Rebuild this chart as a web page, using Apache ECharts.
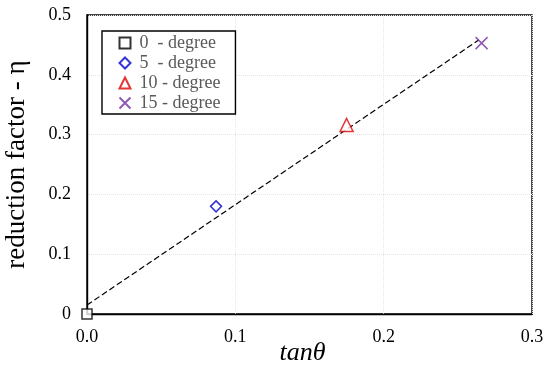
<!DOCTYPE html>
<html><head><meta charset="utf-8">
<script src="https://cdn.jsdelivr.net/npm/echarts@6/dist/echarts.min.js"></script>
<style>html,body{margin:0;padding:0;background:#fff}#c{width:550px;height:370px}</style>
</head><body><div id="c"></div>
<script>
const seriesNames = ['0  - degree', '5  - degree', '10 - degree', '15 - degree'];
const tanValues = [0, 0.087, 0.175, 0.266];
const etaValues = [0, 0.180, 0.316, 0.453];
const trendX = [0, 0.264];
const trendY = [0.015, 0.458];
const xTicks = [0, 0.1, 0.2, 0.3];
const yTicks = [0, 0.1, 0.2, 0.3, 0.4, 0.5];

const colors = ['#000000', '#0000CC', '#E00000', '#7030A0'];
const symbols = ['rect', 'diamond', 'triangle', 'path://M0,0L10,10M10,0L0,10'];
const sizes = [10, 11, 13, 12];
const serif = 'Liberation Serif, Times New Roman, serif';

const series = seriesNames.map((n, i) => ({
  name: n, type: 'scatter', symbol: symbols[i], symbolSize: sizes[i],
  itemStyle: { color: i === 3 ? 'none' : '#fff', borderColor: colors[i], borderWidth: 1.5 },
  data: [[tanValues[i], etaValues[i]]], z: 5
}));
series.unshift({
  name: 'trend', type: 'line', symbol: 'none', silent: true,
  lineStyle: { color: '#000', width: 1.2, type: [6, 3] },
  data: trendX.map((x, i) => [x, trendY[i]]), z: 3
});

const chart = echarts.init(document.getElementById('c'));
chart.setOption({
  animation: false,
  grid: { left: 87, right: 18, top: 15, bottom: 56, outerBoundsMode: 'none', containLabel: false,
          show: true, borderColor: '#000', borderWidth: 1.4 },
  xAxis: {
    type: 'value', min: 0, max: 0.3, interval: 0.1,
    name: 'tanθ', nameLocation: 'middle', nameGap: 26, nameMoveOverlap: false,
    nameTextStyle: { fontFamily: serif, fontStyle: 'italic', fontSize: 26, color: '#000', padding: [0, 14, 0, 0] },
    axisLine: { show: true, lineStyle: { color: '#000', width: 1.4 } },
    axisTick: { show: false },
    axisLabel: { fontFamily: serif, fontSize: 18, color: '#000', margin: 14, formatter: v => v.toFixed(1) },
    splitLine: { show: true, lineStyle: { color: '#e6e6e6', type: 'dotted', width: 1 } }
  },
  yAxis: {
    type: 'value', min: 0, max: 0.5, interval: 0.1,
    name: 'reduction factor - η', nameLocation: 'middle', nameGap: 57, nameMoveOverlap: false,
    nameTextStyle: { fontFamily: serif, fontSize: 27, color: '#000', padding: [0, 0, 0, 0] },
    axisLine: { show: true, lineStyle: { color: '#000', width: 1.4 } },
    axisTick: { show: false },
    axisLabel: { fontFamily: serif, fontSize: 18, color: '#000', margin: 16, formatter: v => v === 0 ? '0' : v.toFixed(1) },
    splitLine: { show: true, lineStyle: { color: '#e6e6e6', type: 'dotted', width: 1 } }
  },
  legend: {
    data: seriesNames, orient: 'vertical', left: 102, top: 31,
    borderColor: '#000', borderWidth: 1.4, padding: [3, 15, 2, 15],
    itemWidth: 11, itemHeight: 11, itemGap: 2, backgroundColor: '#fff',
    textStyle: { fontFamily: serif, fontSize: 18, color: '#595959', padding: [0, 0, 0, 4] }
  },
  series: series
});
</script></body></html>
